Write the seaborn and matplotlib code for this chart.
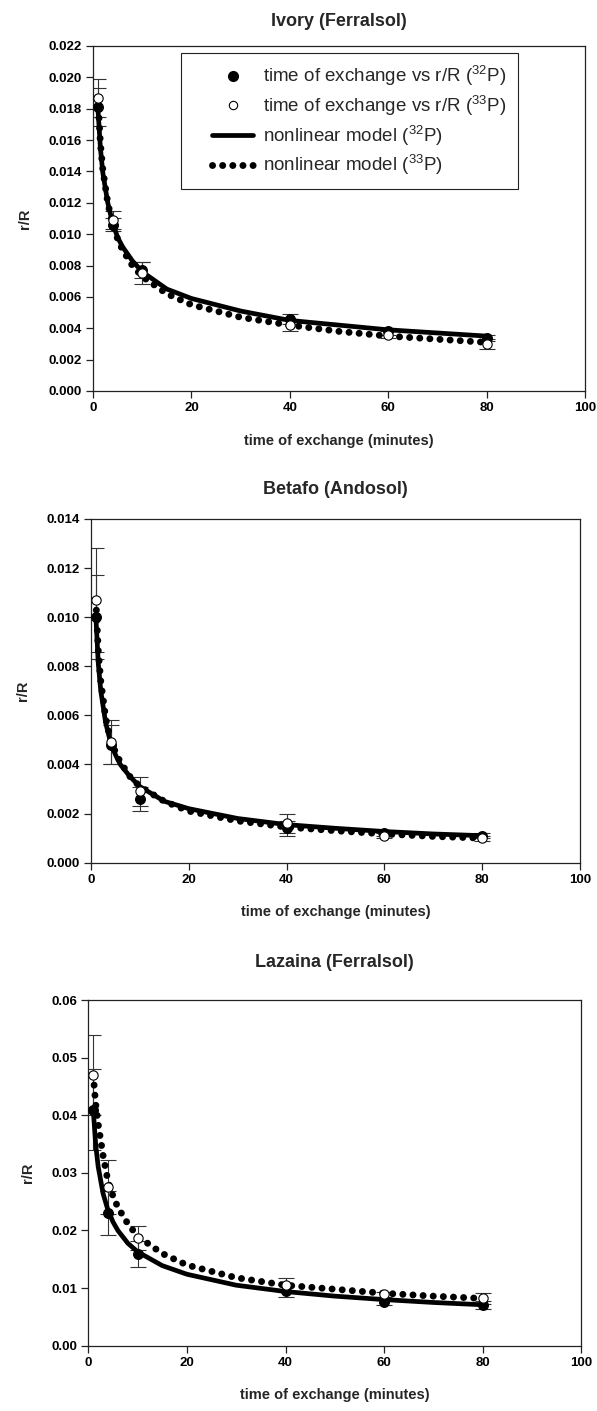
import numpy as np
import pandas as pd
import matplotlib
matplotlib.use("Agg")
import matplotlib.pyplot as plt
import seaborn as sns
from matplotlib.lines import Line2D
from matplotlib.patches import Rectangle

sns.set_style("ticks")
plt.rcParams['font.family'] = ['Liberation Sans', 'DejaVu Sans']
plt.rcParams['mathtext.fontset'] = 'custom'
plt.rcParams['mathtext.rm'] = 'Liberation Sans'
plt.rcParams['mathtext.it'] = 'Liberation Sans:italic'
plt.rcParams['mathtext.bf'] = 'Liberation Sans:bold'

# 测量时间点 (minutes)
TIME = [1, 4, 10, 40, 60, 80]
MODEL_TIME = [1, 1.5, 2, 3, 4, 5, 6, 8, 10, 15, 20, 30, 40, 50, 60, 70, 80]

# Ivory (Ferralsol)
IVORY_P32 = [0.0181, 0.0106, 0.0077, 0.0046, 0.0038, 0.0034]
IVORY_P32_ERR = [0.0012, 0.0004, 0.0005, 0.0003, 0.0002, 0.0002]
IVORY_P33 = [0.0187, 0.0109, 0.0075, 0.0042, 0.0036, 0.0030]
IVORY_P33_ERR = [0.0012, 0.0006, 0.0007, 0.0004, 0.0002, 0.0003]
IVORY_MODEL_P32 = [0.0180, 0.0155, 0.0139, 0.0120, 0.0107, 0.0098, 0.0092, 0.0083, 0.0076,
                   0.0065, 0.0059, 0.0051, 0.0045, 0.0042, 0.0039, 0.0037, 0.0035]
IVORY_MODEL_P33 = [0.0187, 0.0158, 0.0141, 0.0120, 0.0106, 0.0097, 0.0090, 0.0080, 0.0073,
                   0.0062, 0.0055, 0.0047, 0.0042, 0.0038, 0.0035, 0.0033, 0.0031]

# Betafo (Andosol)
BETAFO_P32 = [0.0100, 0.0048, 0.0026, 0.0014, 0.0012, 0.0011]
BETAFO_P32_ERR = [0.0017, 0.0008, 0.0005, 0.0003, 0.0001, 0.0001]
BETAFO_P33 = [0.0107, 0.0049, 0.0029, 0.0016, 0.0011, 0.0010]
BETAFO_P33_ERR = [0.0021, 0.0009, 0.0006, 0.0004, 0.0001, 0.0001]
BETAFO_MODEL_P32 = [0.0100, 0.0081, 0.0070, 0.0057, 0.0049, 0.0044, 0.0040, 0.0035, 0.0031,
                    0.0025, 0.0022, 0.0018, 0.00155, 0.0014, 0.00127, 0.00117, 0.0011]
BETAFO_MODEL_P33 = [0.0107, 0.0086, 0.0074, 0.0059, 0.0050, 0.0045, 0.0041, 0.0035, 0.0031,
                    0.0025, 0.0021, 0.0017, 0.00145, 0.0013, 0.00117, 0.00107, 0.0010]

# Lazaina (Ferralsol)
LAZAINA_P32 = [0.0410, 0.0230, 0.0159, 0.0095, 0.0075, 0.0070]
LAZAINA_P32_ERR = [0.0070, 0.0038, 0.0023, 0.0010, 0.0005, 0.0007]
LAZAINA_P33 = [0.0470, 0.0275, 0.0187, 0.0106, 0.0089, 0.0082]
LAZAINA_P33_ERR = [0.0070, 0.0047, 0.0021, 0.0012, 0.0005, 0.0010]
LAZAINA_MODEL_P32 = [0.0410, 0.0349, 0.0311, 0.0264, 0.0235, 0.0215, 0.0200, 0.0178, 0.0163,
                     0.0139, 0.0124, 0.0105, 0.0094, 0.0086, 0.0080, 0.0075, 0.0071]
LAZAINA_MODEL_P33 = [0.0470, 0.0420, 0.0385, 0.0330, 0.0285, 0.0260, 0.0240, 0.0212, 0.0190,
                     0.0160, 0.0140, 0.0118, 0.0105, 0.0098, 0.0091, 0.0086, 0.0082]

panels = [
    dict(title='Ivory (Ferralsol)', rect=[0.1558, 0.7229, 0.824, 0.2445], pad=14.5,
         p32=IVORY_P32, e32=IVORY_P32_ERR, p33=IVORY_P33, e33=IVORY_P33_ERR,
         m32=IVORY_MODEL_P32, m33=IVORY_MODEL_P33,
         ymax=0.022, ystep=0.002, fmt='%.3f', legend=True),
    dict(title='Betafo (Andosol)', rect=[0.1524, 0.3886, 0.819, 0.2436], pad=18,
         p32=BETAFO_P32, e32=BETAFO_P32_ERR, p33=BETAFO_P33, e33=BETAFO_P33_ERR,
         m32=BETAFO_MODEL_P32, m33=BETAFO_MODEL_P33,
         ymax=0.014, ystep=0.002, fmt='%.3f', legend=False),
    dict(title='Lazaina (Ferralsol)', rect=[0.1479, 0.0463, 0.826, 0.2449], pad=24,
         p32=LAZAINA_P32, e32=LAZAINA_P32_ERR, p33=LAZAINA_P33, e33=LAZAINA_P33_ERR,
         m32=LAZAINA_MODEL_P32, m33=LAZAINA_MODEL_P33,
         ymax=0.06, ystep=0.01, fmt='%.2f', legend=False),
]

DOTS = (0, (0.01, 1.45))

fig = plt.figure(figsize=(5.97, 14.11), dpi=100)
legend_info = None

for p in panels:
    ax = fig.add_axes(p['rect'])
    model_df = pd.DataFrame({'t': MODEL_TIME, 'm32': p['m32'], 'm33': p['m33']})

    # 模型曲线
    sns.lineplot(data=model_df, x='t', y='m32', ax=ax, color='black', linewidth=3.4,
                 zorder=3)
    sns.lineplot(data=model_df, x='t', y='m33', ax=ax, color='black', linewidth=5,
                 linestyle=DOTS, dash_capstyle='round', zorder=4)

    # 误差线
    for vals, errs in [(p['p32'], p['e32']), (p['p33'], p['e33'])]:
        ax.errorbar(TIME, vals, yerr=errs, fmt='none', ecolor='#333333',
                    elinewidth=0.8, capsize=6, capthick=0.8, zorder=2)

    # 测量点
    pts = pd.DataFrame({'t': TIME, 'p32': p['p32'], 'p33': p['p33']})
    sns.scatterplot(data=pts, x='t', y='p32', ax=ax, color='black', s=50,
                    edgecolor='black', linewidth=0.8, zorder=5)
    sns.scatterplot(data=pts, x='t', y='p33', ax=ax, color='white', s=45,
                    edgecolor='black', linewidth=0.8, zorder=6)

    ax.set_xlim(0, 100)
    ax.set_ylim(0, p['ymax'])
    ax.set_xticks(np.arange(0, 101, 20))
    ax.set_yticks(np.arange(0, p['ymax'] + p['ystep'] / 2, p['ystep']))
    ax.yaxis.set_major_formatter(matplotlib.ticker.FormatStrFormatter(p['fmt']))
    ax.tick_params(axis='both', labelsize=9.5, direction='out', length=5, width=0.9,
                   colors='#222222', pad=3)
    for lab in ax.get_xticklabels() + ax.get_yticklabels():
        lab.set_fontweight('bold')
        lab.set_color('black')
    for sp in ax.spines.values():
        sp.set_visible(True)
        sp.set_color('#222222')
        sp.set_linewidth(0.9)

    ax.set_title(p['title'], fontsize=13, fontweight='bold', pad=p['pad'])
    ax.set_xlabel('time of exchange (minutes)', fontsize=10.5, fontweight='bold', labelpad=14)
    ax.set_ylabel('r/R', fontsize=10.5, fontweight='bold', labelpad=12)

    if p['legend']:
        handles = [
            Line2D([], [], linestyle='none', marker='o', markersize=7, color='black'),
            Line2D([], [], linestyle='none', marker='o', markersize=6,
                   markerfacecolor='white', markeredgecolor='black', markeredgewidth=0.8),
            Line2D([], [], color='black', linewidth=3.4),
            Line2D([], [], color='black', linewidth=5, linestyle=DOTS, dash_capstyle='round'),
        ]
        labels = [r'time of exchange vs r/R ($^{32}$P)',
                  r'time of exchange vs r/R ($^{33}$P)',
                  r'nonlinear model ($^{32}$P)',
                  r'nonlinear model ($^{33}$P)']
        leg = ax.legend(handles, labels, loc='upper right', bbox_to_anchor=(0.864, 0.98),
                        borderaxespad=0, fontsize=13.5, frameon=False,
                        handlelength=2.2, labelspacing=0.3,
                        borderpad=0.6, handletextpad=0.55)
        legend_info = (ax, leg)

# 图例边框：左侧留白比 matplotlib 默认更宽
if legend_info is not None:
    ax, leg = legend_info
    fig.canvas.draw()
    bb = leg.get_window_extent().transformed(ax.transAxes.inverted())
    extra = 20 / (ax.get_window_extent().width)
    ax.add_patch(Rectangle((bb.x0 - extra, bb.y0), bb.width + extra, bb.height,
                           transform=ax.transAxes, facecolor='white', edgecolor='#222222',
                           linewidth=0.8, zorder=7))
    leg.set_zorder(8)

fig.savefig('out.png', dpi=100, facecolor='white')
